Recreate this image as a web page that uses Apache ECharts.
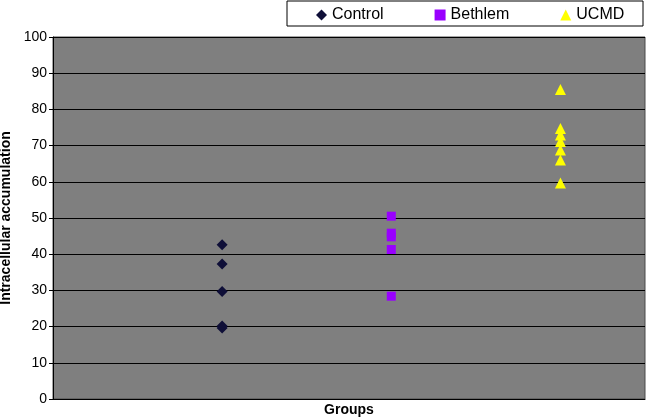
<!DOCTYPE html>
<html><head><meta charset="utf-8">
<script src="https://cdn.jsdelivr.net/npm/echarts@6/dist/echarts.min.js"></script>
<style>html,body{margin:0;padding:0;background:#fff}#c{width:646px;height:420px}</style>
</head><body><div id="c"></div>
<script>
const seriesNames = ['Control', 'Bethlem', 'UCMD'];
const groupX = [1, 2, 3];
const controlValues = [42.6, 37.3, 29.7, 20.2, 19.6];
const bethlemValues = [50.5, 45.8, 44.8, 41.3, 28.4];
const ucmdValues = [85.5, 74.7, 72.9, 71.1, 68.8, 66.0, 59.7];
const yTicks = [0, 100, 10];

const chart = echarts.init(document.getElementById('c'));
const font = 'Liberation Sans, Arial, sans-serif';
function pts(x, vals) { return vals.map(v => [x, v]); }
chart.setOption({
  animation: false,
  backgroundColor: '#fff',
  graphic: [{
    type: 'rect', shape: { x: 287, y: 1, width: 356, height: 25 },
    style: { fill: '#fff', stroke: '#000', lineWidth: 1 }, z: -1
  }],
  legend: {
    left: 311, top: 2, itemGap: 51, itemWidth: 11, itemHeight: 11,
    textStyle: { fontFamily: font, fontSize: 16, color: '#000' },
    data: seriesNames
  },
  grid: { left: 53, right: 1, top: 37, bottom: 21, outerBoundsMode: 'none', containLabel: false,
    show: true, backgroundColor: '#7f7f7f', borderColor: '#4a4a4a', borderWidth: 1 },
  xAxis: {
    type: 'value', min: 0, max: 3.5,
    name: 'Groups', nameLocation: 'middle', nameGap: 4,
    nameTextStyle: { fontFamily: font, fontSize: 14, fontWeight: 'bold', color: '#000' },
    axisLine: { show: true, onZero: false, lineStyle: { color: '#000' } },
    axisTick: { show: false }, axisLabel: { show: false }, splitLine: { show: false }
  },
  yAxis: {
    type: 'value', min: yTicks[0], max: yTicks[1], interval: yTicks[2],
    name: 'Intracellular accumulation', nameLocation: 'middle', nameGap: 35,
    nameTextStyle: { fontFamily: font, fontSize: 14, fontWeight: 'bold', color: '#000' },
    axisLine: { show: true, lineStyle: { color: '#000' } },
    axisTick: { show: true, length: 4, lineStyle: { color: '#000' } },
    axisLabel: { fontFamily: font, fontSize: 14, color: '#000', margin: 6 },
    splitLine: { show: true, lineStyle: { color: '#000', width: 1 } }
  },
  series: [
    { name: seriesNames[0], type: 'scatter', symbol: 'diamond', symbolSize: 11,
      itemStyle: { color: '#0f0f38', opacity: 1 }, data: pts(groupX[0], controlValues) },
    { name: seriesNames[1], type: 'scatter', symbol: 'rect', symbolSize: 9,
      itemStyle: { color: '#9900ff', opacity: 1 }, data: pts(groupX[1], bethlemValues) },
    { name: seriesNames[2], type: 'scatter', symbol: 'triangle', symbolSize: 11,
      itemStyle: { color: '#ffff00', opacity: 1 }, data: pts(groupX[2], ucmdValues) }
  ]
});
</script></body></html>
